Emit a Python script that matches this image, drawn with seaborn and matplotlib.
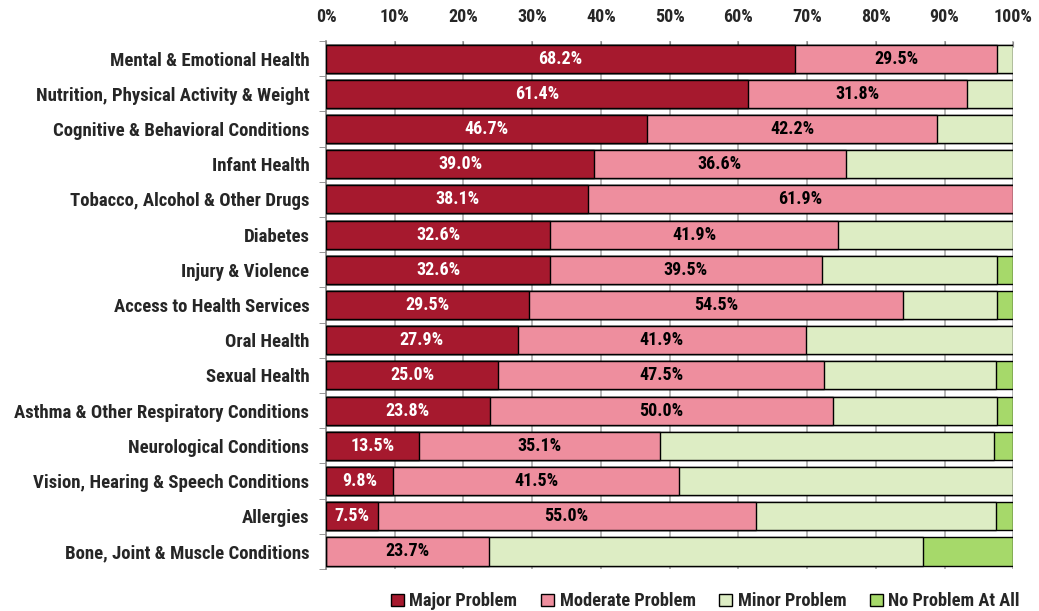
import numpy as np
import pandas as pd
import matplotlib
matplotlib.use("Agg")
import matplotlib.pyplot as plt
import seaborn as sns
from matplotlib.patches import Patch
from matplotlib.ticker import FixedLocator

categories = ['Mental & Emotional Health', 'Nutrition, Physical Activity & Weight',
              'Cognitive & Behavioral Conditions', 'Infant Health',
              'Tobacco, Alcohol & Other Drugs', 'Diabetes', 'Injury & Violence',
              'Access to Health Services', 'Oral Health', 'Sexual Health',
              'Asthma & Other Respiratory Conditions', 'Neurological Conditions',
              'Vision, Hearing & Speech Conditions', 'Allergies',
              'Bone, Joint & Muscle Conditions']
major = [68.2, 61.4, 46.7, 39.0, 38.1, 32.6, 32.6, 29.5, 27.9, 25.0, 23.8, 13.5, 9.8, 7.5, 0.0]
moderate = [29.5, 31.8, 42.2, 36.6, 61.9, 41.9, 39.5, 54.5, 41.9, 47.5, 50.0, 35.1, 41.5, 55.0, 23.7]
minor = [2.3, 6.8, 11.1, 24.4, 0.0, 25.5, 25.6, 13.7, 30.2, 25.0, 23.8, 48.6, 48.7, 35.0, 63.2]
no_problem = [0.0, 0.0, 0.0, 0.0, 0.0, 0.0, 2.3, 2.3, 0.0, 2.5, 2.4, 2.8, 0.0, 2.5, 13.1]

series = ['Major Problem', 'Moderate Problem', 'Minor Problem', 'No Problem At All']
colors = ['#A6192E', '#EE8E9E', '#DDEDC4', '#A6D96A']

sns.set_style('white')
plt.rcParams['font.family'] = ['Roboto Condensed', 'Liberation Sans', 'DejaVu Sans']
plt.rcParams['font.weight'] = 'bold'

df = pd.DataFrame({'cat': categories, 'major': major, 'moderate': moderate,
                   'minor': minor, 'none': no_problem})
df['c1'] = df['major']
df['c2'] = df['c1'] + df['moderate']
df['c3'] = df['c2'] + df['minor']
df['c4'] = df['c3'] + df['none']

fig = plt.figure(figsize=(10.39, 6.11), dpi=100)
ax = fig.add_axes([0.3138, 0.0687, 0.6614, 0.8642])

# cumulative totals drawn longest first so each shorter one covers the last
for col, color in zip(['c4', 'c3', 'c2', 'c1'], colors[::-1]):
    sns.barplot(data=df, x=col, y='cat', orient='h', color=color, width=0.8,
                edgecolor='black', linewidth=1.0, saturation=1, ax=ax, zorder=3)

for i, row in df.iterrows():
    if row['major'] > 0:
        ax.text(row['major'] / 2, i, f"{row['major']:.1f}%", ha='center', va='center',
                color='white', fontsize=13, fontweight='bold', zorder=5)
    if row['moderate'] > 0:
        ax.text(row['c1'] + row['moderate'] / 2, i, f"{row['moderate']:.1f}%", ha='center',
                va='center', color='black', fontsize=13, fontweight='bold', zorder=5)

ax.set_xlim(0, 100)
ax.set_ylim(len(categories) - 0.5, -0.5)
ax.set_xticks(np.arange(0, 101, 10))
ax.set_xticklabels([f'{v}%' for v in range(0, 101, 10)], fontsize=13, fontweight='bold')
ax.xaxis.tick_top()
ax.tick_params(axis='x', direction='in', length=4, color='#888888', pad=11)
ax.grid(axis='x', color='#AAAAAA', linewidth=1.2, zorder=0)
ax.set_axisbelow(True)

ax.yaxis.set_minor_locator(FixedLocator(np.arange(-0.5, len(categories), 1)))
ax.tick_params(axis='y', which='major', length=0, pad=12, labelsize=13.5)
ax.tick_params(axis='y', which='minor', length=5, color='#888888', direction='out', left=True)
for lbl in ax.get_yticklabels():
    lbl.set_fontweight('bold')
ax.set_xlabel('')
ax.set_ylabel('')

for side in ['top', 'right', 'bottom']:
    ax.spines[side].set_visible(False)
ax.spines['left'].set_color('#888888')
ax.spines['left'].set_linewidth(1.2)

handles = [Patch(facecolor=c, edgecolor='black', label=s) for s, c in zip(series, colors)]
fig.legend(handles=handles, loc='lower center', bbox_to_anchor=(0.679, -0.026), ncol=4,
           frameon=False, fontsize=13.2, handlelength=0.7, handleheight=0.7,
           handletextpad=0.3, columnspacing=1.3)

fig.savefig('out.png', dpi=100)
